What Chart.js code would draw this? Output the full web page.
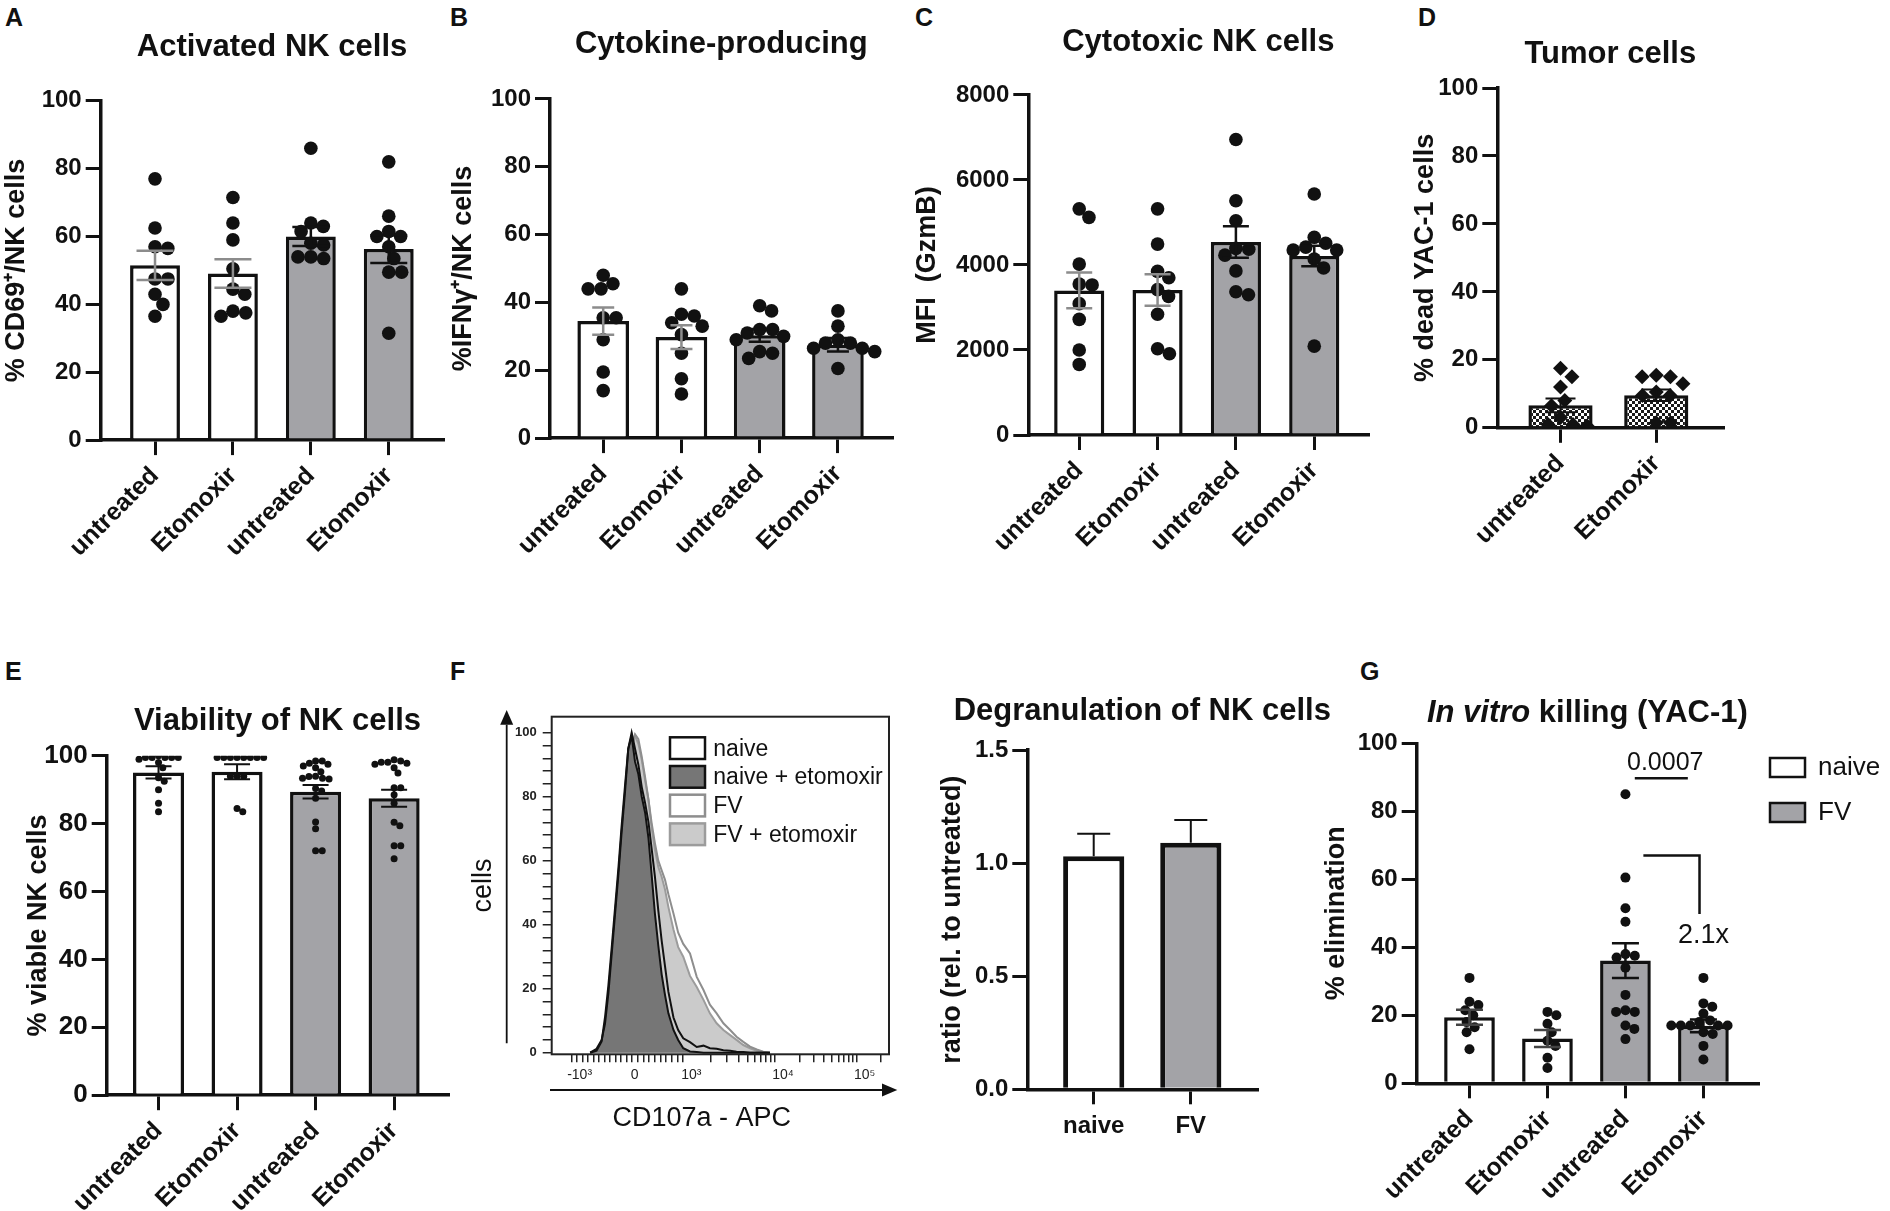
<!DOCTYPE html>
<html>
<head>
<meta charset="utf-8">
<script src="https://cdn.jsdelivr.net/npm/chart.js@4.4.1/dist/chart.umd.min.js"></script>
<style>
  html, body { margin: 0; padding: 0; background: #fff; }
  body { width: 1890px; height: 1211px; position: relative; overflow: hidden; font-family: "Liberation Sans", Arial, sans-serif; }
  canvas { position: absolute; }
  .tag { position: absolute; font-weight: bold; font-size: 25px; line-height: 25px; color: #111; }
</style>
</head>
<body>
<div class="tag" style="left:5px;top:5px">A</div>
<div class="tag" style="left:450px;top:5px">B</div>
<div class="tag" style="left:915px;top:5px">C</div>
<div class="tag" style="left:1418px;top:5px">D</div>
<div class="tag" style="left:5px;top:659px">E</div>
<div class="tag" style="left:450px;top:659px">F</div>
<div class="tag" style="left:1360px;top:659px">G</div>

<canvas id="cA"></canvas>
<canvas id="cB"></canvas>
<canvas id="cC"></canvas>
<canvas id="cD"></canvas>
<canvas id="cE"></canvas>
<canvas id="cF1"></canvas>
<canvas id="cF2"></canvas>
<canvas id="cG"></canvas>

<script>
// categories
const groups4 = ['untreated', 'Etomoxir', 'untreated', 'Etomoxir'];
const groups2 = ['untreated', 'Etomoxir'];
const infection = ['naive', 'FV'];

// A - activated NK cells (% CD69+)
const actMean = [51.5, 49.1, 60.0, 56.3];
const actSem = [4.3, 4.2, 2.8, 4.1];
const actPts = [
  [77, 62.5, 57, 56.5, 47.5, 47.5, 43, 40, 36.5],
  [71.5, 64, 59, 50.5, 44.5, 43, 38, 37.5, 36.5],
  [86, 64, 63, 61.5, 58, 57.5, 54, 54, 53.5],
  [82, 66, 61.5, 60, 60, 57, 53.5, 49.5, 49.5, 31.5]
];

// B - IFNg producing
const cytMean = [34.5, 29.8, 30.3, 27.5];
const cytSem = [4.0, 3.5, 1.9, 2.0];
const cytPts = [
  [48, 45.5, 44, 44, 35.5, 35.5, 29, 19.5, 14],
  [44, 36.5, 36, 34, 33, 30.5, 25, 17.5, 13],
  [39, 37.5, 32, 32, 31, 30, 29, 25.5, 25, 23.5],
  [37.5, 33, 29, 28, 28, 26.5, 26.5, 25.5, 20.5]
];

// C - GzmB MFI
const gzmMean = [3400, 3410, 4540, 4210];
const gzmSem = [420, 370, 370, 240];
const gzmPts = [
  [5320, 5120, 4020, 3550, 3530, 3090, 2720, 2000, 1660],
  [5320, 4490, 3850, 3700, 3420, 3260, 2840, 2030, 1910],
  [6950, 5510, 5040, 4390, 4370, 4230, 3860, 3370, 3300],
  [5670, 4650, 4510, 4420, 4350, 4350, 4140, 3930, 2090]
];

// D - dead YAC-1 cells
const tumMean = [6.6, 9.6];
const tumSem = [2.0, 1.7];
const tumPts = [
  [17.5, 15, 12, 8, 6.5, 3, 1, 0.5, 1],
  [15.5, 15, 15, 13, 10.5, 9.5, 9.5, 1.5, 1.5]
];

// E - viability
const viaMean = [95.1, 95.3, 89.4, 87.5];
const viaSem = [1.8, 2.2, 2.0, 2.5];
const viaPts = [
  [100, 99.5, 99.5, 99.5, 99.5, 99.5, 99, 98, 96.5, 93.5, 92.5, 90, 86, 83.5],
  [99.5, 99.5, 99.5, 99.5, 99.5, 99.5, 99.5, 99.5, 94, 94, 94, 84.5, 83.5],
  [98.5, 98.5, 97.8, 97.5, 97, 96.5, 95.3, 94, 93.9, 93.4, 93.4, 93.2, 90.4, 89.6, 87.5, 80.5, 78.5, 72, 72],
  [98.8, 98.5, 98.1, 98.1, 97.8, 97.5, 96.5, 94.9, 90.6, 90.6, 88.5, 86, 80.4, 79.4, 73.5, 73.5, 69.7]
];

// F - CD107a histogram (x in display channels of the biexponential axis)
const histLabels = ['naive', 'naive + etomoxir', 'FV', 'FV + etomoxir'];
const histX = [114, 133, 148, 158, 168, 178, 188, 198, 207, 217, 227, 237, 247, 257, 267, 277, 287, 296, 306, 316,
  326, 336, 346, 361, 375, 390, 410, 430, 450, 469, 489, 509, 529, 548, 568, 588, 608, 627, 647];
const histNaive = [0, 0.6, 3.5, 11, 21, 33, 45.5, 58, 70.5, 83, 95, 100, 95, 90, 83, 78, 72, 64, 55, 44.5,
  35, 27, 19, 11, 7.1, 4.5, 3.3, 1.8, 2.2, 1.4, 1.2, 0.8, 0.6, 0.3, 0.2, 0, 0, 0, 0];
const histNaiveEto = [0, 1.2, 4, 9, 18.5, 31, 43.5, 56, 68.5, 81, 95, 99, 91, 87, 80, 75, 67, 56, 43.5, 33.5,
  24.5, 18, 12.3, 7.1, 4, 1.4, 0.4, 0.2, 0, 0, 0, 0, 0, 0, 0, 0, 0, 0, 0];
const histFV = [0, 0.4, 2, 6, 14, 25, 37, 49, 63.5, 76, 88, 96, 99.5, 98, 92.5, 86, 79, 72, 65.5, 60,
  57, 54, 49.5, 43.5, 37.5, 34, 31, 23.7, 19.6, 15, 12.3, 9.2, 7.1, 5, 3.4, 1.9, 1, 0.3, 0];
const histFVEto = [0, 0.6, 2.8, 7, 16, 27, 39, 51, 64, 76.5, 88, 95.5, 99, 96.5, 91.5, 85, 79, 70.5, 63.5, 58,
  55, 51, 45.5, 38.5, 33, 30, 24, 20.5, 16.5, 12.3, 9.2, 7.1, 5.5, 4, 2.4, 1.4, 0.6, 0.2, 0];
const histTickPos = [59, 222, 390, 662, 904];
const histTickText = ['-10³', '0', '10³', '10⁴', '10⁵'];

// F - degranulation ratio
const degMean = [1.03, 1.09];
const degSem = [0.10, 0.10];

// G - in vitro killing
const killMean = [19.4, 13.2, 36.1, 16.9];
const killSem = [2.2, 2.5, 5.1, 1.9];
const killPts = [
  [31, 24, 23, 21.5, 20, 18, 16.5, 15, 10],
  [21, 20, 17.5, 15, 12.5, 11, 7.5, 4.5],
  [85, 60.5, 51.5, 47.5, 38, 37.5, 37, 34, 26, 21, 21, 21.5, 17, 16, 13],
  [31, 23.5, 22.5, 20.5, 18.5, 18, 17, 17, 17, 17, 17, 15, 14.5, 11, 7]
];
const killP = '0.0007';
const killPLine = [2.12, 2.8, 89.7];      // x from, x to, y
const killPText = [2.51, 94.1];
const killBracket = [2.23, 2.95, 67, 49.8];  // x from, x corner, y top, y end
const killFold = '2.1x';
const killFoldAt = [3.0, 43.6];

const INK = '#111';
const GREY = '#a3a3a7';
const SOFT = '#8c8c8c';
const FONT = '"Liberation Sans", Arial, sans-serif';
const NARROW = '"Liberation Sans Narrow", "Liberation Sans", Arial, sans-serif';
const TITLE_SIZE = 31;

Chart.defaults.font.family = FONT;
Chart.defaults.color = INK;
Chart.defaults.animation = false;
Chart.defaults.events = [];
Chart.defaults.plugins.legend.display = false;
Chart.defaults.plugins.tooltip.enabled = false;

// simple beeswarm: horizontal offsets (px) so that dots do not overlap
function swarm(vals, r, pxY) {
  const d = 2 * r * 0.95;
  const idx = vals.map((v, i) => i).sort((p, q) => vals[q] - vals[p]);
  const placed = [], out = [];
  idx.forEach(i => {
    const y = vals[i] * pxY;
    const cand = [0];
    placed.forEach(p => {
      const dy = Math.abs(p.y - y);
      if (dy < d) {
        const dx = Math.sqrt(d * d - dy * dy);
        cand.push(p.x + dx, p.x - dx);
      }
    });
    cand.sort((m, n) => Math.abs(m) - Math.abs(n) || n - m);
    const ok = cand.find(cx => placed.every(p => (p.x - cx) ** 2 + (p.y - y) ** 2 >= d * d - 0.5));
    const cx = ok === undefined ? 0 : ok;
    placed.push({x: cx, y});
    out[i] = cx;
  });
  return out;
}

function errBars(c) {
  return {
    id: 'errBars',
    afterDatasetsDraw(chart) {
      const {ctx, scales: {x, y}} = chart;
      ctx.save();
      ctx.lineWidth = c.errWidth || 2.5;
      c.means.forEach((m, i) => {
        const cx = x.getPixelForValue(i);
        const top = y.getPixelForValue(m + c.sems[i]);
        const bot = y.getPixelForValue(c.upOnly ? m : m - c.sems[i]);
        ctx.strokeStyle = c.errColors[i];
        ctx.beginPath();
        ctx.moveTo(cx, top); ctx.lineTo(cx, bot);
        ctx.moveTo(cx - c.cap / 2, top); ctx.lineTo(cx + c.cap / 2, top);
        if (!c.upOnly) { ctx.moveTo(cx - c.cap / 2, bot); ctx.lineTo(cx + c.cap / 2, bot); }
        ctx.stroke();
      });
      ctx.restore();
    }
  };
}

// panel title centred on the plot area; parts = [[text, font style], ...]
function panelTitle(parts, gap) {
  return {
    id: 'panelTitle',
    afterDraw(chart) {
      const {ctx, chartArea: a} = chart;
      ctx.save();
      ctx.fillStyle = INK;
      ctx.textBaseline = 'middle';
      ctx.textAlign = 'left';
      let total = 0;
      const w = parts.map(p => {
        ctx.font = `${p[1]} ${TITLE_SIZE}px ${FONT}`;
        const m = ctx.measureText(p[0]).width;
        total += m;
        return m;
      });
      let x = (a.left + a.right) / 2 - total / 2;
      const y = a.top - gap;
      parts.forEach((p, i) => {
        ctx.font = `${p[1]} ${TITLE_SIZE}px ${FONT}`;
        ctx.fillText(p[0], x, y);
        x += w[i];
      });
      ctx.restore();
    }
  };
}

function checker(ctx) {
  const t = document.createElement('canvas');
  t.width = 6; t.height = 6;
  const g = t.getContext('2d');
  g.fillStyle = '#fff'; g.fillRect(0, 0, 6, 6);
  g.fillStyle = '#1a1a1a';
  g.fillRect(0, 0, 3, 3); g.fillRect(3, 3, 3, 3);
  return ctx.createPattern(t, 'repeat');
}

function barPanel(c) {
  const a = c.area;
  const cv = document.getElementById(c.id);
  const cTop = Math.floor(c.titleMid - TITLE_SIZE);
  const cLeft = Math.floor(c.yTitleX - 22);
  const cRight = Math.ceil(a.r + (c.extraRight || 14));
  const cBottom = Math.ceil(c.bottom);
  cv.width = cRight - cLeft;
  cv.height = cBottom - cTop;
  cv.style.left = cLeft + 'px';
  cv.style.top = cTop + 'px';
  const yW = a.l - cLeft, xH = cBottom - a.b;
  const pxX = (a.r - a.l) / (c.xMax - c.xMin);
  const pxY = (a.b - a.t) / c.yMax;
  const yTitleSize = 27;

  const fills = c.fills === 'checker' ? c.means.map(() => checker(cv.getContext('2d'))) : c.fills;
  const datasets = [{
    type: 'bar',
    data: c.means.map((m, i) => ({x: i, y: m})),
    backgroundColor: fills,
    borderColor: INK,
    borderWidth: c.barBorder || 3.5,
    borderSkipped: 'start',
    barPercentage: c.barFrac,
    categoryPercentage: 1,
    order: 2
  }];
  if (c.pts) {
    const pts = [];
    c.pts.forEach((arr, i) => {
      const off = swarm(arr, c.dotR, pxY);
      arr.forEach((v, k) => pts.push({x: i + off[k] / pxX, y: v}));
    });
    datasets.push({
      type: 'scatter', data: pts, pointStyle: c.dotStyle || 'circle',
      pointRadius: c.dotR, backgroundColor: INK, borderWidth: 0, order: 1
    });
  }
  const rot = c.rot === undefined ? 45 : c.rot;
  const titleParts = c.titleParts || [[c.title, 'bold']];
  const plugins = [errBars(c), panelTitle(titleParts, a.t - c.titleMid)].concat(c.extraPlugins || []);

  return new Chart(cv, {
    type: 'bar',
    data: {datasets},
    plugins,
    options: {
      responsive: false,
      layout: {padding: {top: a.t - cTop, right: cRight - a.r, left: 0, bottom: 0}},
      scales: {
        x: {
          type: 'linear', min: c.xMin, max: c.xMax, offset: false,
          afterBuildTicks: s => { s.ticks = c.cats.map((t, i) => ({value: i})); },
          afterFit: s => { s.height = xH; },
          ticks: {
            autoSkip: false, maxRotation: rot, minRotation: rot, padding: c.xPad || 6,
            font: {size: c.xFont || 25, weight: 'bold'}, color: INK,
            callback: (v, i) => c.cats[i]
          },
          grid: {drawOnChartArea: false, tickLength: 15, lineWidth: 3, color: INK, offset: false},
          border: {display: true, color: INK, width: 3.5}
        },
        y: {
          min: 0, max: c.yMax,
          afterFit: s => { s.width = yW; },
          ticks: {
            stepSize: c.yStep, padding: 4, font: {size: c.yFont || 24, weight: 'bold'}, color: INK,
            callback: c.fmt || (v => String(v))
          },
          grid: {drawOnChartArea: false, tickLength: 15, lineWidth: 3, color: INK},
          border: {display: true, color: INK, width: 3.5},
          title: {
            display: true, text: c.yTitle, color: INK,
            font: {size: yTitleSize, weight: 'bold'},
            padding: {top: c.yTitleX - cLeft - yTitleSize * 0.6, bottom: 0}
          }
        }
      }
    }
  });
}

// A
barPanel({
  id: 'cA', area: {l: 100.7, t: 100.8, r: 443.3, b: 440.1}, xMin: -0.697, xMax: 3.70,
  yMax: 100, yStep: 20, cats: groups4, means: actMean, sems: actSem, pts: actPts,
  fills: ['#fff', '#fff', GREY, GREY], errColors: [SOFT, SOFT, INK, INK], cap: 37,
  barFrac: 0.64, dotR: 6.8, title: 'Activated NK cells', titleMid: 47.5,
  yTitle: '% CD69⁺/NK cells', yTitleX: 16.7, bottom: 600
});

// B
barPanel({
  id: 'cB', area: {l: 550, t: 98.9, r: 892.7, b: 438.1}, xMin: -0.68, xMax: 3.70,
  yMax: 100, yStep: 20, cats: groups4, means: cytMean, sems: cytSem, pts: cytPts,
  fills: ['#fff', '#fff', GREY, GREY], errColors: [SOFT, SOFT, INK, INK], cap: 22,
  barFrac: 0.66, dotR: 6.8, title: 'Cytokine-producing', titleMid: 44.5,
  yTitle: '%IFNγ⁺/NK cells', yTitleX: 464, bottom: 600
});

// C
barPanel({
  id: 'cC', area: {l: 1028.3, t: 94.9, r: 1368.3, b: 435}, xMin: -0.65, xMax: 3.69,
  yMax: 8000, yStep: 2000, cats: groups4, means: gzmMean, sems: gzmSem, pts: gzmPts,
  fills: ['#fff', '#fff', GREY, GREY], errColors: [SOFT, SOFT, INK, INK], cap: 26,
  barFrac: 0.64, dotR: 6.8, title: 'Cytotoxic NK cells', titleMid: 42.5,
  yTitle: 'MFI  (GzmB)', yTitleX: 928, bottom: 600
});

// D
barPanel({
  id: 'cD', area: {l: 1497.3, t: 88, r: 1723.3, b: 427.8}, xMin: -0.66, xMax: 1.70,
  yMax: 100, yStep: 20, cats: groups2, means: tumMean, sems: tumSem, pts: tumPts,
  fills: 'checker', errColors: [INK, INK], cap: 30, errWidth: 2,
  barFrac: 0.67, dotR: 7.5, dotStyle: 'rectRot', title: 'Tumor cells', titleMid: 54.3,
  yTitle: '% dead YAC-1 cells', yTitleX: 1426, bottom: 600
});

// E
barPanel({
  id: 'cE', area: {l: 106.7, t: 755.8, r: 448.3, b: 1095.2}, xMin: -0.66, xMax: 3.69,
  yMax: 100, yStep: 20, cats: groups4, means: viaMean, sems: viaSem, pts: viaPts,
  fills: ['#fff', '#fff', GREY, GREY], errColors: [INK, INK, INK, INK], cap: 26, errWidth: 2,
  barFrac: 0.65, dotR: 3.5, title: 'Viability of NK cells', titleMid: 721, yFont: 26,
  yTitle: '% viable NK cells', yTitleX: 39, bottom: 1211
});

// F right - degranulation
barPanel({
  id: 'cF2', area: {l: 1027.3, t: 750, r: 1257.3, b: 1089.3}, xMin: -0.684, xMax: 1.685,
  yMax: 1.5, yStep: 0.5, cats: infection, means: degMean, sems: degSem,
  fills: ['#fff', GREY], errColors: [INK, INK], cap: 33, errWidth: 2, upOnly: true,
  barFrac: 0.63, barBorder: 5, rot: 0, xFont: 24, xPad: 8,
  title: 'Degranulation of NK cells', titleMid: 711.7, extraRight: 110,
  yTitle: 'ratio (rel. to untreated)', yTitleX: 952.5, bottom: 1150,
  fmt: v => v.toFixed(1)
});

// G
const killNotes = {
  id: 'killNotes',
  afterDatasetsDraw(chart) {
    const {ctx, scales: {x, y}, chartArea: a} = chart;
    ctx.save();
    ctx.strokeStyle = INK; ctx.fillStyle = INK; ctx.lineWidth = 2.5;
    ctx.beginPath();
    ctx.moveTo(x.getPixelForValue(killPLine[0]), y.getPixelForValue(killPLine[2]));
    ctx.lineTo(x.getPixelForValue(killPLine[1]), y.getPixelForValue(killPLine[2]));
    ctx.moveTo(x.getPixelForValue(killBracket[0]), y.getPixelForValue(killBracket[2]));
    ctx.lineTo(x.getPixelForValue(killBracket[1]), y.getPixelForValue(killBracket[2]));
    ctx.lineTo(x.getPixelForValue(killBracket[1]), y.getPixelForValue(killBracket[3]));
    ctx.stroke();
    ctx.textAlign = 'center'; ctx.textBaseline = 'middle';
    ctx.font = `25px ${FONT}`;
    ctx.fillText(killP, x.getPixelForValue(killPText[0]), y.getPixelForValue(killPText[1]));
    ctx.font = `27px ${FONT}`;
    ctx.fillText(killFold, x.getPixelForValue(killFoldAt[0]), y.getPixelForValue(killFoldAt[1]));
    // legend
    const fills = ['#fff', GREY];
    ctx.textAlign = 'left';
    ctx.font = `26px ${FONT}`;
    infection.forEach((name, i) => {
      const bx = a.right + 12, by = a.top + 14.7 + i * 45;
      ctx.fillStyle = fills[i];
      ctx.fillRect(bx, by, 35, 19);
      ctx.strokeStyle = INK; ctx.lineWidth = 2.5;
      ctx.strokeRect(bx, by, 35, 19);
      ctx.fillStyle = INK;
      ctx.fillText(name, a.right + 60, by + 10);
    });
    ctx.restore();
  }
};
barPanel({
  id: 'cG', area: {l: 1416.7, t: 743.3, r: 1758, b: 1083.3}, xMin: -0.677, xMax: 3.70,
  yMax: 100, yStep: 20, cats: groups4, means: killMean, sems: killSem, pts: killPts,
  fills: ['#fff', '#fff', GREY, GREY], errColors: ['#444', '#444', INK, INK], cap: 27, errWidth: 2.5,
  barFrac: 0.65, dotR: 5, titleParts: [['In vitro', 'italic bold'], [' killing (YAC-1)', 'bold']],
  titleMid: 713, extraRight: 132,
  yTitle: '% elimination', yTitleX: 1337, bottom: 1211, extraPlugins: [killNotes]
});

// F left - histogram overlay
(function () {
  const a = {l: 551.7, t: 716.7, r: 889, b: 1054.3};
  const cLeft = 461, cTop = 690, cRight = 905, cBottom = 1140;
  const cv = document.getElementById('cF1');
  cv.width = cRight - cLeft; cv.height = cBottom - cTop;
  cv.style.left = cLeft + 'px'; cv.style.top = cTop + 'px';

  const [nm, z, p3, p4, p5] = histTickPos;
  const minor = [];
  for (let k = 1; k < 10; k++) minor.push(z + (nm - z) * k / 10, z + (p3 - z) * k / 10);
  for (let k = 2; k < 10; k++) {
    const f = Math.log10(k);
    minor.push(p3 + (p4 - p3) * f, p4 + (p5 - p4) * f, p5 + (p5 - p4) * f);
  }
  const xTicks = histTickPos.concat(minor.filter(v => v > 0 && v < 1000)).sort((m, n) => m - n);

  const series = [histNaive, histNaiveEto, histFV, histFVEto];
  const lines = [INK, INK, '#8e8e8e', '#9c9c9c'];
  const boxes = ['#fff', '#767676', '#fff', '#cbcbcb'];
  const filled = [false, true, false, true];
  const datasets = series.map((s, i) => ({
    label: histLabels[i],
    data: histX.map((x, k) => ({x, y: s[k]})),
    borderColor: lines[i], backgroundColor: boxes[i],
    fill: filled[i] ? 'origin' : false,
    borderWidth: 2, pointRadius: 0, tension: 0, order: i
  }));

  const deco = {
    id: 'histDeco',
    afterDraw(chart) {
      const {ctx, chartArea: c} = chart;
      ctx.save();
      ctx.strokeStyle = '#222'; ctx.lineWidth = 2;
      ctx.strokeRect(c.left, c.top, c.right - c.left, c.bottom - c.top);
      // axis arrows
      ctx.lineWidth = 1.8; ctx.fillStyle = '#111'; ctx.strokeStyle = '#111';
      const ax = c.left - 45;
      ctx.beginPath(); ctx.moveTo(ax, c.bottom - 11); ctx.lineTo(ax, c.top + 8); ctx.stroke();
      ctx.beginPath(); ctx.moveTo(ax, c.top - 6.7); ctx.lineTo(ax - 6.5, c.top + 8); ctx.lineTo(ax + 6.5, c.top + 8); ctx.closePath(); ctx.fill();
      const ay = c.bottom + 35.7;
      ctx.beginPath(); ctx.moveTo(c.left - 1.7, ay); ctx.lineTo(c.right - 6, ay); ctx.stroke();
      ctx.beginPath(); ctx.moveTo(c.right + 8.3, ay); ctx.lineTo(c.right - 7, ay - 6.5); ctx.lineTo(c.right - 7, ay + 6.5); ctx.closePath(); ctx.fill();
      ctx.font = `27px ${FONT}`; ctx.textAlign = 'center'; ctx.textBaseline = 'middle';
      ctx.fillText('CD107a - APC', c.left + 150, c.bottom + 64);
      // legend
      ctx.textAlign = 'left';
      ctx.font = `23px ${FONT}`;
      chart.data.datasets.forEach((ds, i) => {
        const bx = c.left + 118.3, by = c.top + 20.6 + i * 28.7;
        ctx.fillStyle = ds.backgroundColor;
        ctx.fillRect(bx, by, 35, 21.7);
        ctx.strokeStyle = ds.borderColor; ctx.lineWidth = 2.5;
        ctx.strokeRect(bx, by, 35, 21.7);
        ctx.fillStyle = INK;
        ctx.fillText(ds.label, c.left + 161.6, by + 12);
      });
      ctx.restore();
    }
  };

  new Chart(cv, {
    type: 'line',
    data: {datasets},
    plugins: [deco],
    options: {
      responsive: false,
      layout: {padding: {top: a.t - cTop, right: cRight - a.r, left: 0, bottom: 0}},
      plugins: {filler: {drawTime: 'beforeDatasetDraw'}},
      scales: {
        x: {
          type: 'linear', min: 0, max: 1000,
          afterBuildTicks: s => { s.ticks = xTicks.map(v => ({value: v})); },
          afterFit: s => { s.height = cBottom - a.b; },
          ticks: {
            autoSkip: false, maxRotation: 0, minRotation: 0, padding: 4, labelOffset: 8,
            font: {size: 14, family: NARROW}, color: '#222',
            callback: v => { const k = histTickPos.indexOf(v); return k < 0 ? '' : histTickText[k]; }
          },
          grid: {drawOnChartArea: false, tickLength: 8, lineWidth: 1.5, color: '#222'},
          border: {display: false}
        },
        y: {
          min: -0.5, max: 105,
          afterBuildTicks: s => { const t = []; for (let v = 0; v <= 100; v += 4) t.push({value: v}); s.ticks = t; },
          afterFit: s => { s.width = a.l - cLeft; },
          ticks: {
            autoSkip: false, padding: 6, font: {size: 13, weight: 'bold', family: NARROW}, color: '#222',
            callback: v => (v % 20 === 0 ? String(v) : '')
          },
          grid: {drawOnChartArea: false, tickLength: 9, lineWidth: 1.5, color: '#222'},
          border: {display: false},
          title: {display: true, text: 'cells', color: INK, font: {size: 27}, padding: {top: 483.3 - cLeft - 16.2, bottom: 0}}
        }
      }
    }
  });
})();
</script>
</body>
</html>
